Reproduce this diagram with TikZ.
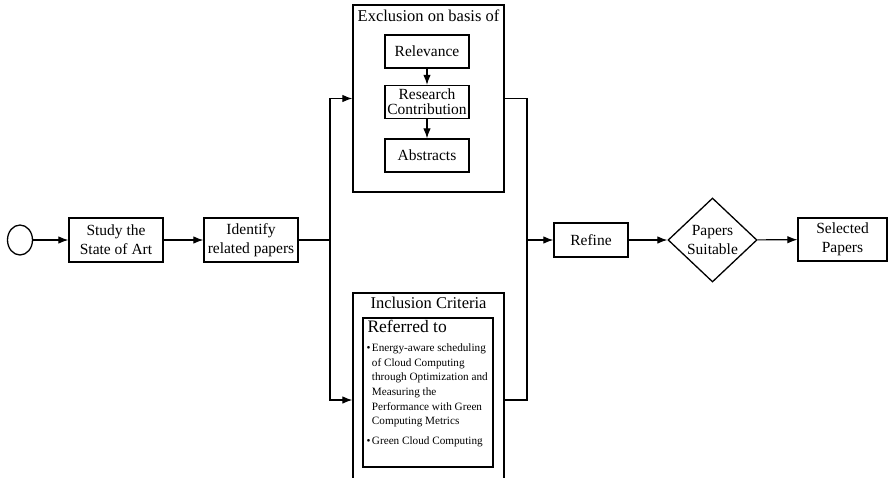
\documentclass[tikz,border=0pt]{standalone}
\usepackage{fontspec}
\setmainfont{Liberation Serif}
\usepackage{tikz}
\usetikzlibrary{positioning,calc,shapes.geometric,arrows.meta}
\tikzset{>={Latex[length=10pt,width=7.5pt]}}

\begin{document}
\begin{tikzpicture}[%
                    x=1pt,y=1pt,
                    line width=1.1pt,
                    stepbox/.style={draw,line width=1.3pt,inner sep=0,align=center,
                        font=\fontsize{15.5}{19}\selectfont},
                    innerbox/.style={stepbox,minimum width=84,minimum height=33},
                    groupbox/.style={draw,line width=1.3pt,inner sep=0,minimum width=151},
                    grouptitle/.style={inner sep=0,font=\fontsize{16.5}{19}\selectfont},
                    decide/.style={draw,diamond,line width=1.3pt,inner sep=0,align=center,
                        minimum width=89,minimum height=84,font=\fontsize{15.5}{19}\selectfont}
        ]
    \useasboundingbox (0,0) rectangle (888,-477);
    \node[draw,ellipse,line width=1.3pt,minimum width=25,minimum height=30,inner sep=0] (start) at (20,-240) {};
    \node[stepbox,minimum width=94,minimum height=44] (study) at (116,-240) {Study the\\State of Art};
    \node[stepbox,minimum width=94,minimum height=44] (identify) at (251,-240) {Identify\\related papers};
    % exclusion group
    \node[groupbox,minimum height=187] (excl) at (428.5,-98.5) {};
    \node[grouptitle,below=5 of excl.north] (excltitle) {Exclusion on basis of};
    \node[innerbox] (relev) at (427,-51.5) {Relevance};
    \node[innerbox,font=\fontsize{15.5}{15}\selectfont] (contrib) at (427,-102) {Research\\Contribution};
    \node[innerbox] (abstr) at (427,-155.5) {Abstracts};
    % inclusion group
    \node[groupbox,minimum height=214] (incl) at (428.5,-400) {};
    \node[grouptitle,below=4 of incl.north] (incltitle) {Inclusion Criteria};
    \node[draw,line width=1.3pt,minimum width=130,minimum height=149,inner sep=0] (refbox) at (428,-392.5) {};
    \node[anchor=north west,inner sep=0,font=\fontsize{17.5}{19}\selectfont] (refto) at (367,-320) {Referred to};
    \node[anchor=north west,inner sep=0,font=\fontsize{11.2}{14.6}\selectfont] (reflist) at (366,-341)
        {\begin{tabular}{@{}l@{\hspace{1.5pt}}l@{}}
            \textbullet & Energy-aware scheduling\\
                        & of Cloud Computing\\
                        & through Optimization and\\
                        & Measuring the\\
                        & Performance with Green\\
                        & Computing Metrics\\[5pt]
            \textbullet & Green Cloud Computing
         \end{tabular}};
    \node[stepbox,minimum width=74,minimum height=34] (refine) at (591,-240) {Refine};
    \node[decide] (suit) at (712.5,-240) {Papers\\Suitable};
    \node[stepbox,minimum width=89,minimum height=43] (selected) at (842.5,-239.5) {Selected\\Papers};
    \coordinate (split) at (330,-240);
    \coordinate (join) at (527,-240);
\draw[->] (start) -- (study);
\draw[->] (study) -- (identify);
\draw (identify) -- (split);
\draw[->] (split) |- (excl.west);
\draw[->] (split) |- (incl.west);
\path[->]
    (relev) edge (contrib)
    (contrib) edge (abstr);
\draw (excl.east) -| (join);
\draw (incl.east) -| (join);
\draw[->] (join) -- (refine);
\draw[->] (refine) -- (suit);
\draw[->] (suit) -- (selected);
\end{tikzpicture}
\end{document}
